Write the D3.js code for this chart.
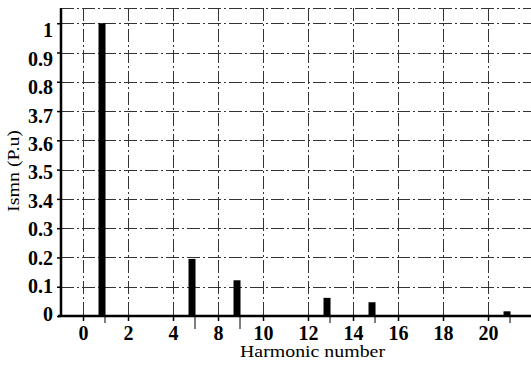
<!DOCTYPE html>
<html><head><meta charset="utf-8">
<script src="https://cdn.jsdelivr.net/npm/d3@7"></script>
</head>
<body style="margin:0;padding:0;background:#fff;">
<svg id="chart" width="531" height="365" style="display:block;"></svg>
<script>
// Data
const harmonics = [1, 5, 7, 11, 13, 19];
const magnitudes = [1.0, 0.195, 0.122, 0.062, 0.047, 0.016];
const xTickPositions = [0, 2, 4, 6, 8, 10, 12, 14, 16, 18];
const xTickLabels = ["0", "2", "4", "8", "10", "12", "14", "16", "18", "20"];
const yTickValues = [0, 0.1, 0.2, 0.3, 0.4, 0.5, 0.6, 0.7, 0.8, 0.9, 1.0];
const yTickLabels = ["0", "0.1", "0.2", "0.3", "3.4", "3.5", "3.6", "3.7", "0.8", "0.9", "1"];

const FONT = "'Liberation Serif', monospace";
const svg = d3.select("#chart");
const mLeft = 61, mRight = 531, mTop = 8, mBottom = 316;

const x = d3.scaleLinear().domain([-0.978, 19.91]).range([mLeft, mRight]);
const y = d3.scaleLinear().domain([0, 1.052]).range([mBottom, mTop]);
// tick labels in the source drift slightly from their ticks
const yLabel = d3.scaleLinear().domain([0, 1]).range([314, 30]);

const gridStyle = g => g.attr("stroke", "#333").attr("stroke-width", 1)
  .attr("stroke-dasharray", "13,3,2,3").attr("fill", "none");

// horizontal grid
svg.append("g").selectAll("line").data(yTickValues.filter(v => v > 0).concat([1.052]))
  .join("line")
  .attr("x1", mLeft).attr("x2", mRight)
  .attr("y1", d => Math.round(y(d)) + 0.5).attr("y2", d => Math.round(y(d)) + 0.5)
  .call(gridStyle);

// vertical grid
svg.append("g").selectAll("line").data(xTickPositions)
  .join("line")
  .attr("x1", d => Math.round(x(d)) + 0.5).attr("x2", d => Math.round(x(d)) + 0.5)
  .attr("y1", mTop).attr("y2", mBottom)
  .call(gridStyle);

// bars (right edge at harmonic position)
const barW = 7;
svg.append("g").selectAll("rect").data(harmonics)
  .join("rect")
  .attr("x", d => x(d) - barW)
  .attr("width", barW)
  .attr("y", (d, i) => y(magnitudes[i]))
  .attr("height", (d, i) => mBottom - y(magnitudes[i]))
  .attr("fill", "#000");

// thin marker ticks below bars
svg.append("g").selectAll("line").data(harmonics)
  .join("line")
  .attr("x1", d => x(d) - 0.5).attr("x2", d => x(d) - 0.5)
  .attr("y1", mBottom).attr("y2", (d, i) => mBottom + (i === 1 || i === 2 ? 13 : 7))
  .attr("stroke", "#000").attr("stroke-width", 1);

// X axis
const xAxis = d3.axisBottom(x).tickValues(xTickPositions)
  .tickFormat((d, i) => xTickLabels[i]).tickSize(5).tickSizeOuter(0);
const gx = svg.append("g").attr("transform", `translate(0,${mBottom})`).call(xAxis);
gx.select(".domain").attr("stroke", "#000").attr("stroke-width", 2.5)
  .attr("d", `M${mLeft - 3},0H${mRight}`);
gx.selectAll(".tick line").attr("stroke", "#000").attr("stroke-width", 1.5);
gx.selectAll(".tick text")
  .style("font-family", FONT).style("font-weight", "bold").style("font-size", "20px")
  .attr("dy", null).attr("y", 23.5).attr("fill", "#000");

// Y axis
const yAxis = d3.axisLeft(y).tickValues(yTickValues)
  .tickFormat((d, i) => yTickLabels[i]).tickSize(4).tickSizeOuter(0);
const gy = svg.append("g").attr("transform", `translate(${mLeft},0)`).call(yAxis);
gy.select(".domain").attr("stroke", "#000").attr("stroke-width", 2.5)
  .attr("d", `M0,${mTop}V${mBottom + 1}`);
gy.selectAll(".tick line").attr("stroke", "#000").attr("stroke-width", 1.5);
gy.selectAll(".tick text")
  .style("font-family", FONT).style("font-weight", "bold").style("font-size", "20px")
  .attr("x", -8).attr("dy", "0.34em")
  .attr("y", d => yLabel(d) - y(d))
  .attr("fill", "#000");

// axis titles
svg.append("text").attr("x", 312.5).attr("y", 357).attr("text-anchor", "middle")
  .style("font-family", FONT).style("font-size", "17px")
  .attr("textLength", 145).attr("lengthAdjust", "spacingAndGlyphs")
  .text("Harmonic number");
svg.append("text").attr("transform", "translate(18.5,171) rotate(-90)")
  .attr("text-anchor", "middle")
  .style("font-family", FONT).style("font-size", "16px")
  .attr("textLength", 82).attr("lengthAdjust", "spacingAndGlyphs")
  .text("Ismn (P.u)");
</script>
</body></html>
